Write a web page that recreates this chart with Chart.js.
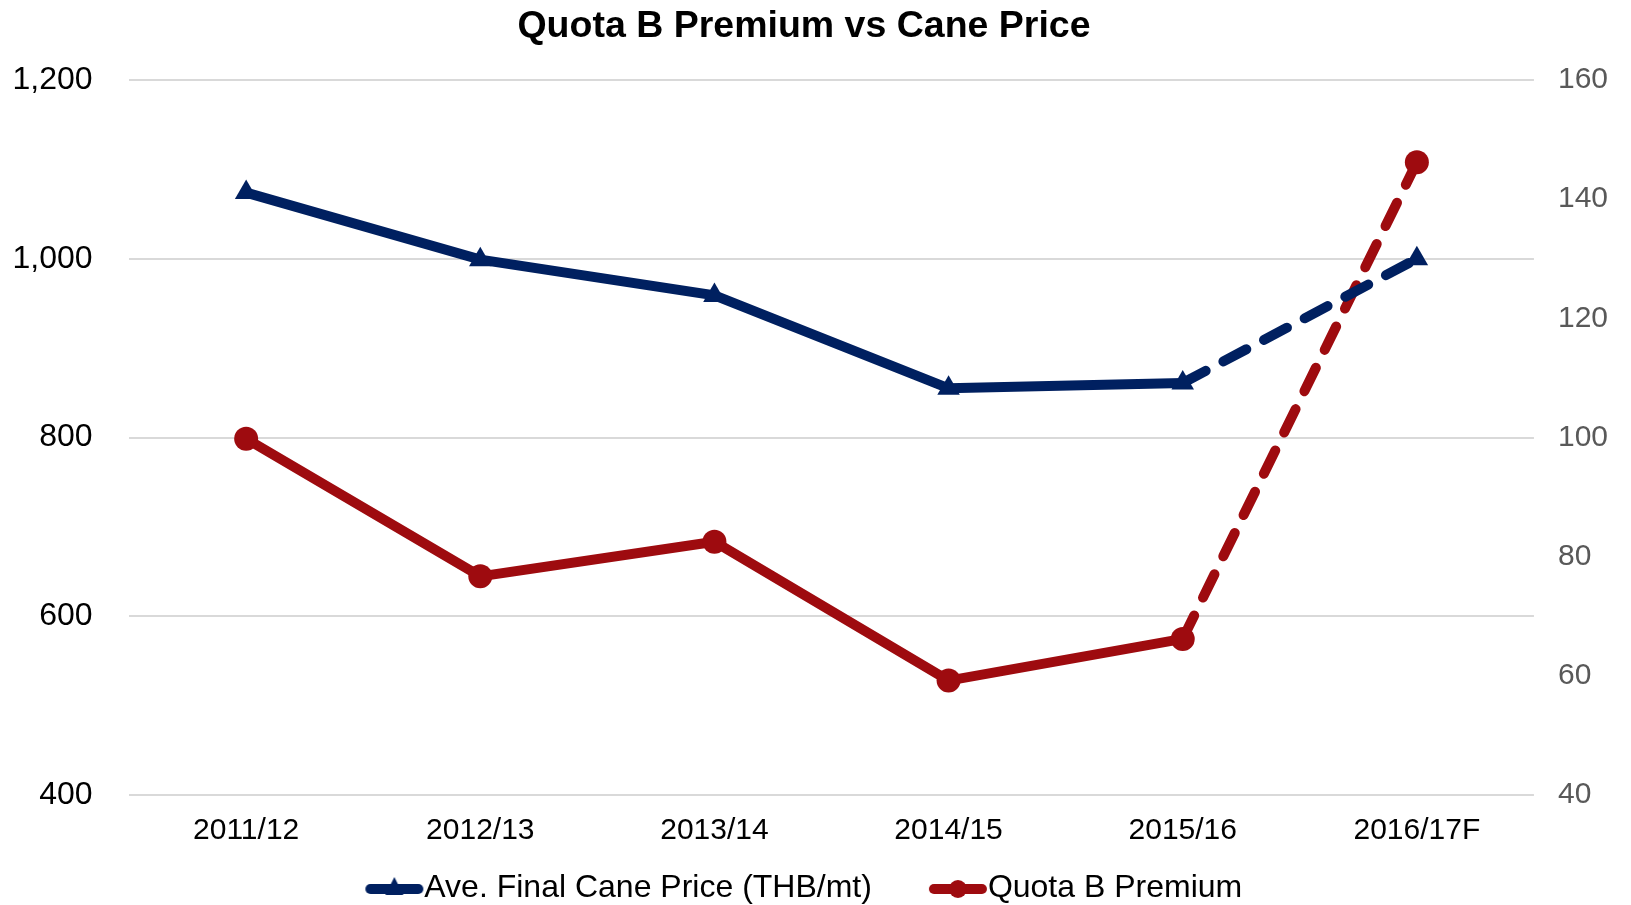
<!DOCTYPE html>
<html>
<head>
<meta charset="utf-8">
<script src="https://cdn.jsdelivr.net/npm/chart.js@4.4.1/dist/chart.umd.min.js"></script>
<style>
  html, body { margin: 0; padding: 0; background: #fff; }
  #wrap { width: 1631px; height: 905px; }
</style>
</head>
<body>
<div id="wrap"><canvas id="chart"></canvas></div>
<script>
// 年度
const seasons = ['2011/12', '2012/13', '2013/14', '2014/15', '2015/16', '2016/17F'];
// 平均最終サトウキビ価格 (左軸)
const canePrice = [1074, 999, 959, 855, 861, 1000];
// Quota B プレミアム (右軸)
const quotaPremium = [99.8, 76.7, 82.5, 59.2, 66.2, 146.2];
const leftTicks = [400, 600, 800, 1000, 1200];
const rightTicks = [40, 60, 80, 100, 120, 140, 160];

const blue = '#002060';
const red = '#9E0B0F';
const FONT = '"Liberation Sans", Arial, sans-serif';

// 最後の区間（予測）は破線
const forecastDash = ctx => ctx.p0DataIndex === seasons.length - 2 ? [26, 20] : undefined;

// 凡例アイコンの箱幅（画像は箱の中心に置かれるので、右寄せで描いて文字にくっつける）
const legendBox = 87;
function legendIcon(color, marker) {
  const c = document.createElement('canvas');
  c.width = legendBox + 32; c.height = 26;
  const g = c.getContext('2d');
  const x0 = c.width - 60;
  g.strokeStyle = color; g.fillStyle = color;
  g.lineWidth = 10; g.lineCap = 'round';
  g.beginPath(); g.moveTo(x0 + 6, 14); g.lineTo(x0 + 54, 14); g.stroke();
  g.beginPath();
  if (marker === 'triangle') {
    g.moveTo(x0 + 30, 2); g.lineTo(x0 + 39, 20); g.lineTo(x0 + 21, 20); g.closePath();
  } else {
    g.arc(x0 + 30, 14, 9, 0, Math.PI * 2);
  }
  g.fill();
  return c;
}
const icons = [legendIcon(blue, 'triangle'), legendIcon(red, 'circle')];

new Chart(document.getElementById('chart'), {
  type: 'line',
  data: {
    labels: seasons,
    datasets: [
      {
        label: 'Ave. Final Cane Price (THB/mt)',
        data: canePrice,
        yAxisID: 'y',
        borderColor: blue,
        backgroundColor: blue,
        borderWidth: 10,
        borderCapStyle: 'round',
        pointStyle: 'triangle',
        pointRadius: 13,
        pointBorderWidth: 0,
        segment: { borderDash: forecastDash }
      },
      {
        label: 'Quota B Premium',
        data: quotaPremium,
        yAxisID: 'y1',
        borderColor: red,
        backgroundColor: red,
        borderWidth: 10,
        borderCapStyle: 'round',
        pointStyle: 'circle',
        pointRadius: 12,
        pointBorderWidth: 0,
        segment: { borderDash: forecastDash }
      }
    ]
  },
  options: {
    responsive: true,
    maintainAspectRatio: false,
    animation: false,
    layout: { padding: { left: -24, right: -1, top: 0, bottom: -9 } },
    plugins: {
      title: {
        display: true,
        text: 'Quota B Premium vs Cane Price',
        color: '#000',
        font: { family: FONT, size: 37.5, weight: 'bold' },
        padding: { top: 4, bottom: 31 }
      },
      legend: {
        position: 'bottom',
        labels: {
          color: '#000',
          font: { family: FONT, size: 32 },
          usePointStyle: true,
          pointStyleWidth: legendBox,
          padding: 13,
          // 末尾の空白で凡例全体を少し左へ寄せる
          generateLabels: chart => chart.data.datasets.map((ds, i) => ({
            text: i === chart.data.datasets.length - 1 ? ds.label + '     ' : ds.label,
            pointStyle: icons[i],
            fillStyle: ds.borderColor,
            strokeStyle: ds.borderColor,
            lineWidth: 0,
            fontColor: '#000',
            hidden: false,
            datasetIndex: i
          }))
        }
      },
      tooltip: { enabled: false }
    },
    scales: {
      x: {
        offset: true,
        grid: { display: false },
        border: { display: false },
        ticks: { color: '#000', font: { family: FONT, size: 30 }, padding: 10, maxRotation: 0 }
      },
      y: {
        position: 'left',
        min: leftTicks[0],
        max: leftTicks[leftTicks.length - 1],
        afterBuildTicks: axis => { axis.ticks = leftTicks.map(v => ({ value: v })); },
        grid: { color: '#d9d9d9', lineWidth: 2, drawTicks: false },
        border: { display: false },
        ticks: {
          color: '#000',
          font: { family: FONT, size: 32 },
          padding: 36.5,
          callback: v => v.toLocaleString('en-US')
        }
      },
      y1: {
        position: 'right',
        min: rightTicks[0],
        max: rightTicks[rightTicks.length - 1],
        afterBuildTicks: axis => { axis.ticks = rightTicks.map(v => ({ value: v })); },
        grid: { display: false, drawTicks: false },
        border: { display: false },
        ticks: { color: '#595959', font: { family: FONT, size: 30 }, padding: 24 }
      }
    }
  }
});
</script>
</body>
</html>
